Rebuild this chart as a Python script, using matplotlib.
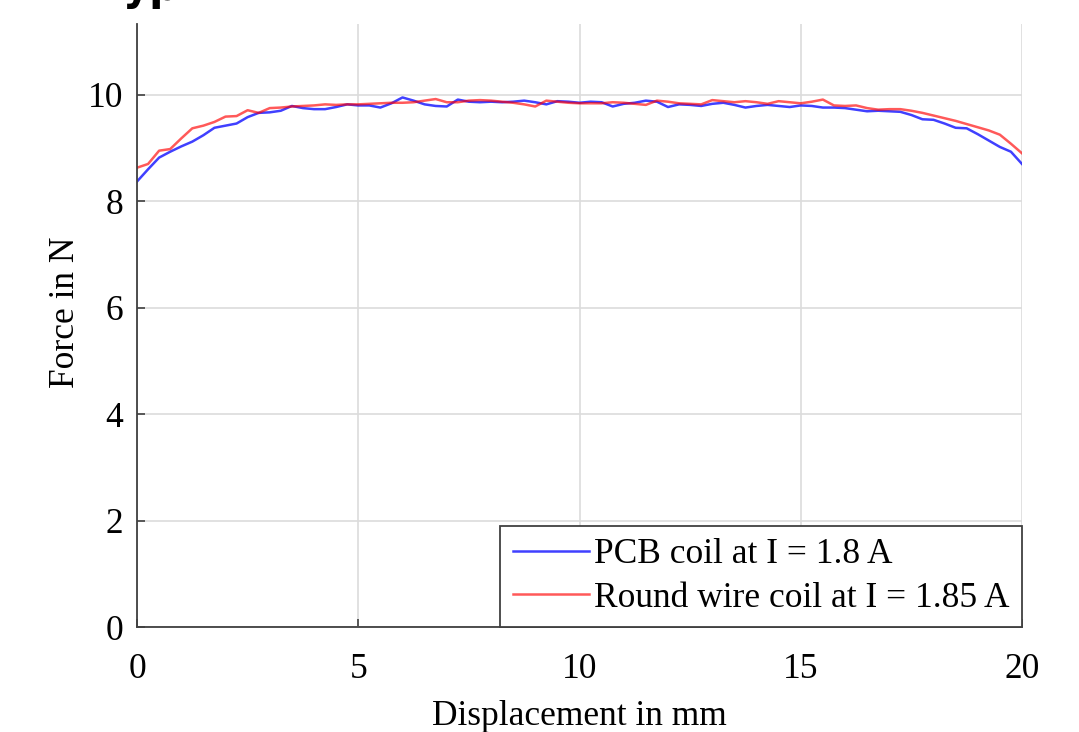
import matplotlib
matplotlib.use("Agg")
import matplotlib.pyplot as plt
import numpy as np

plt.rcParams['font.family'] = ['Liberation Serif', 'DejaVu Serif']

# Displacement samples in mm
displacement = np.linspace(0, 20, 81)

# PCB coil at I = 1.8 A
force_pcb = [
    8.37, 8.60, 8.82, 8.93, 9.03, 9.12, 9.24, 9.38, 9.42, 9.46,
    9.58, 9.66, 9.67, 9.70, 9.79, 9.75, 9.73, 9.73, 9.77, 9.82,
    9.80, 9.80, 9.76, 9.84, 9.95, 9.89, 9.82, 9.79, 9.78, 9.91,
    9.87, 9.86, 9.87, 9.86, 9.87, 9.89, 9.86, 9.82, 9.88, 9.87,
    9.85, 9.87, 9.86, 9.78, 9.83, 9.85, 9.89, 9.87, 9.77, 9.82,
    9.81, 9.79, 9.83, 9.85, 9.81, 9.76, 9.79, 9.81, 9.79, 9.77,
    9.80, 9.79, 9.76, 9.76, 9.75, 9.72, 9.69, 9.70, 9.69, 9.68,
    9.62, 9.54, 9.53, 9.46, 9.38, 9.37, 9.26, 9.14, 9.02, 8.93,
    8.70,
]

# Round wire coil at I = 1.85 A
force_round = [
    8.63, 8.70, 8.95, 8.98, 9.18, 9.37, 9.42, 9.49, 9.59, 9.60,
    9.71, 9.66, 9.75, 9.76, 9.78, 9.79, 9.80, 9.82, 9.81, 9.82,
    9.82, 9.83, 9.84, 9.85, 9.85, 9.86, 9.89, 9.92, 9.86, 9.86,
    9.89, 9.90, 9.89, 9.87, 9.85, 9.82, 9.78, 9.89, 9.87, 9.85,
    9.84, 9.84, 9.84, 9.86, 9.85, 9.83, 9.81, 9.89, 9.87, 9.84,
    9.83, 9.82, 9.90, 9.88, 9.86, 9.88, 9.86, 9.83, 9.88, 9.86,
    9.84, 9.87, 9.91, 9.80, 9.79, 9.80, 9.75, 9.72, 9.73, 9.73,
    9.70, 9.66, 9.61, 9.56, 9.51, 9.45, 9.39, 9.33, 9.25, 9.08,
    8.90,
]

labels = ['PCB coil at I = 1.8 A', 'Round wire coil at I = 1.85 A']

FS = 25.5

fig = plt.figure(figsize=(10.79, 7.32), dpi=100)
ax = fig.add_axes([137 / 1079, 105 / 732, 885 / 1079, 603 / 732])

ax.plot(displacement, force_pcb, color='#0000ff', alpha=0.75, lw=1.8, label=labels[0])
ax.plot(displacement, force_round, color='#ff0000', alpha=0.65, lw=1.8, label=labels[1])

ax.set_xlim(0, 20)
ax.set_ylim(0, 11.33)
ax.set_xticks([0, 5, 10, 15, 20])
ax.set_yticks([0, 2, 4, 6, 8, 10])
ax.grid(True, color='#dcdcdc', lw=1.2)
ax.set_axisbelow(True)

ax.spines['top'].set_visible(False)
ax.spines['right'].set_visible(False)
for s in ['left', 'bottom']:
    ax.spines[s].set_color('#404040')
    ax.spines[s].set_linewidth(1.3)

ax.tick_params(direction='in', length=6, width=1.2, color='#404040', labelsize=FS)
ax.tick_params(axis='x', pad=19)
ax.tick_params(axis='y', pad=10)

ax.set_xlabel('Displacement in mm', fontsize=FS)
ax.set_ylabel('Force in N', fontsize=FS)
ax.xaxis.set_label_coords(0.5, -0.121)
ax.yaxis.set_label_coords(-0.062, 0.522)

leg = ax.legend(loc='lower right', fontsize=FS, borderaxespad=0, fancybox=False,
                framealpha=1, edgecolor='#404040', handlelength=2.15,
                handletextpad=0.15, borderpad=0.35, labelspacing=0.3)
leg.get_frame().set_linewidth(1.3)

# cut-off heading at the top edge
fig.text(123 / 1079, 1.0, 'yp', fontsize=30, fontweight='bold',
         family='DejaVu Sans', va='baseline', ha='left')

fig.savefig('out.png', dpi=100, facecolor='white')
